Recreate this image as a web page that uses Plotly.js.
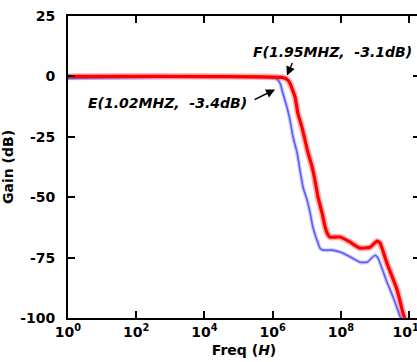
<!DOCTYPE html>
<html><head><meta charset="utf-8">
<script src="https://cdn.plot.ly/plotly-3.0.1.min.js"></script>
<style>html,body{margin:0;padding:0;overflow:hidden;background:#fff;}#chart{width:440px;height:362px;}</style>
</head><body><div id="chart"></div>
<script>
// log10(frequency) and gain (dB)
const redLogF = [0, 6.28, 6.42, 6.51, 6.66, 6.74, 6.86, 6.95, 7.04, 7.16, 7.24, 7.33, 7.45, 7.54, 7.60, 7.68, 7.98, 8.27, 8.56, 8.86, 9.06, 9.15, 9.35, 9.65, 9.82, 9.91];
const redGain = [0, -0.4, -1.2, -2.9, -8.7, -15.3, -21.1, -26.4, -31.8, -37.6, -43.0, -50.0, -56.6, -62.4, -64.9, -66.5, -66.5, -68.6, -71.1, -70.7, -68.2, -69.0, -77.3, -88.4, -97.9, -101.7];
const blueLogF = [0, 6.10, 6.22, 6.30, 6.42, 6.51, 6.60, 6.72, 6.80, 6.89, 7.01, 7.10, 7.18, 7.30, 7.39, 7.48, 7.74, 7.98, 8.18, 8.56, 8.77, 9.00, 9.09, 9.35, 9.53, 9.74, 9.79];
const blueGain = [-0.8, -0.8, -2.9, -7.0, -12.8, -18.2, -25.2, -31.8, -38.8, -45.9, -51.2, -56.6, -62.4, -67.8, -71.1, -71.9, -71.9, -72.7, -74.0, -76.9, -76.9, -74.0, -75.2, -85.1, -91.3, -99.6, -101.7];
const xTickExp = [0, 2, 4, 6, 8, 10];
const yTickVals = [25, 0, -25, -50, -75, -100];
const yTickText = ['25', '0', '-25', '-50', '-75', '-100'];
const annF = 'F(1.95MHZ,  -3.1dB)';
const annE = 'E(1.02MHZ,  -3.4dB)';

const toF = a => a.map(v => Math.pow(10, v));
const FONT = 'DejaVu Sans, sans-serif';

const traces = [
  {x: toF(blueLogF), y: blueGain, mode: 'lines', line: {color: 'rgba(110,110,255,0.35)', width: 4, shape: 'spline', smoothing: 0.4}, hoverinfo: 'skip'},
  {x: toF(blueLogF), y: blueGain, mode: 'lines', line: {color: '#5b5bff', width: 1.6, shape: 'spline', smoothing: 0.4}},
  {x: toF(redLogF), y: redGain, mode: 'lines', line: {color: 'rgba(255,40,40,0.35)', width: 6.5, shape: 'spline', smoothing: 0.4}, hoverinfo: 'skip'},
  {x: toF(redLogF), y: redGain, mode: 'lines', line: {color: '#ff0000', width: 3.2, shape: 'spline', smoothing: 0.4}}
];

const layout = {
  width: 440, height: 362,
  margin: {l: 68, r: 20, t: 16, b: 44},
  showlegend: false,
  paper_bgcolor: '#fff', plot_bgcolor: '#fff',
  font: {family: FONT, size: 14, color: '#000', weight: 700},
  xaxis: {
    type: 'log', range: [0, 10.32],
    tickmode: 'array', tickvals: xTickExp.map(e => Math.pow(10, e)),
    ticktext: xTickExp.map(e => '10<sup>' + e + '</sup>'),
    ticks: 'inside', ticklen: 7, tickwidth: 2, tickcolor: '#000',
    showline: true, linewidth: 2, linecolor: '#000', mirror: 'ticks',
    showgrid: false, zeroline: false,
    tickfont: {family: FONT, size: 14, color: '#000', weight: 700},
    title: {text: 'Freq (<i>H</i>)', font: {family: FONT, size: 14, color: '#000', weight: 700}, standoff: 6}
  },
  yaxis: {
    range: [-100, 25],
    tickmode: 'array', tickvals: yTickVals, ticktext: yTickText,
    ticks: 'inside', ticklen: 7, tickwidth: 2, tickcolor: '#000',
    showline: true, linewidth: 2, linecolor: '#000', mirror: 'ticks',
    showgrid: false, zeroline: false,
    tickfont: {family: FONT, size: 14, color: '#000', weight: 700},
    ticklabelstandoff: 8,
    title: {text: 'Gain (dB)', font: {family: FONT, size: 14, color: '#000', weight: 700}, standoff: 6}
  },
  annotations: [
    {xref: 'x', yref: 'y', x: 7.74, y: 10.3, text: annF, showarrow: false,
     font: {family: FONT, size: 14, color: '#000', weight: 700, style: 'italic'}},
    {xref: 'x', yref: 'y', x: 2.93, y: -11.2, text: annE, showarrow: false,
     font: {family: FONT, size: 14, color: '#000', weight: 700, style: 'italic'}},
    {xref: 'x', yref: 'y', x: 6.42, y: 0.4, text: '', showarrow: true, arrowhead: 2, arrowsize: 1.2, arrowwidth: 1.5, arrowcolor: '#000', ax: 6, ay: -14},
    {xref: 'x', yref: 'y', x: 6.07, y: -5.4, text: '', showarrow: true, arrowhead: 2, arrowsize: 1.2, arrowwidth: 1.5, arrowcolor: '#000', ax: -22, ay: 11}
  ]
};

Plotly.newPlot('chart', traces, layout, {staticPlot: true, displayModeBar: false});
</script>
</body></html>
